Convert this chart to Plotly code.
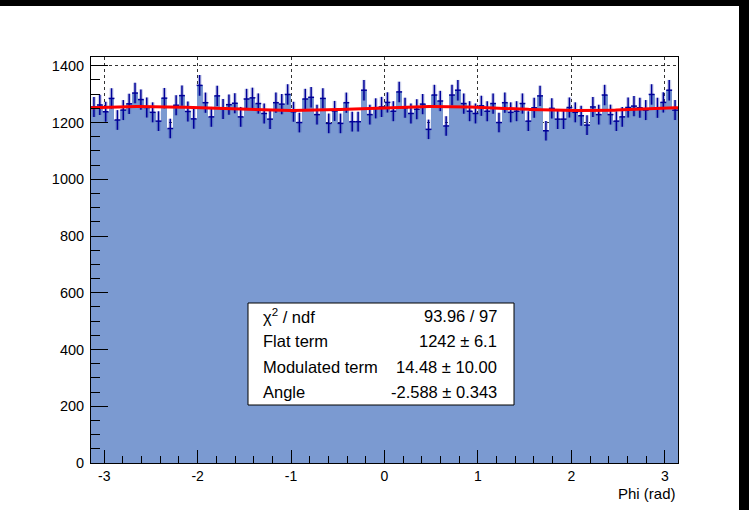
import numpy as np
import plotly.graph_objects as go

# ---------------- data ----------------
n_bins = 100
x_min, x_max = -np.pi, np.pi

counts = [
    1255, 1262, 1238, 1285, 1209, 1244, 1266, 1304, 1281, 1253,
    1236, 1205, 1286, 1179, 1261, 1295, 1239, 1213, 1331, 1270,
    1220, 1294, 1248, 1263, 1268,
    1220, 1283, 1287, 1267, 1232, 1212, 1270, 1265, 1299, 1238,
    1200, 1283, 1289, 1228, 1285, 1197, 1241, 1197, 1270, 1203,
    1203, 1314, 1228, 1250, 1255,
    1271, 1240, 1308, 1252, 1232, 1247, 1265, 1176, 1297, 1276,
    1188, 1297, 1314, 1267, 1240, 1232, 1259, 1240, 1267, 1200,
    1270, 1236, 1240, 1267, 1205,
    1252, 1294, 1171, 1250, 1212, 1212, 1253, 1236, 1224, 1191,
    1255, 1228, 1297, 1228, 1205, 1220, 1253, 1258, 1252, 1244,
    1299, 1252, 1271, 1314, 1244,
]

# fit parameters (from stats box)
flat_term = 1242.0
modulated_term = 14.48
angle = -2.588

stats_labels = ["χ<sup>2</sup> / ndf", "Flat term", "Modulated term", "Angle"]
stats_values = ["93.96 / 97", "1242 ± 6.1", "14.48 ± 10.00", "-2.588 ± 0.343"]

x_tick_vals = [-3, -2, -1, 0, 1, 2, 3]
x_tick_text = ["-3", "-2", "-1", "0", "1", "2", "3"]
y_tick_vals = [0, 200, 400, 600, 800, 1000, 1200, 1400]
y_tick_text = ["0", "200", "400", "600", "800", "1000", "1200", "1400"]
x_title = "Phi (rad)"

# ---------------- derived ----------------
counts = np.array(counts, dtype=float)
edges = np.linspace(x_min, x_max, n_bins + 1)
centers = 0.5 * (edges[:-1] + edges[1:])
bw = edges[1] - edges[0]
errs = np.sqrt(counts)

phi = np.linspace(x_min, x_max, 400)
fit = flat_term + modulated_term * np.cos(phi - angle) ** 2

FONT = "Liberation Sans, Arial, Helvetica, sans-serif"
FILL = "#7b9ad1"
ERR = "#000099"

fig = go.Figure()
fig.add_trace(go.Bar(
    x=centers, y=counts, width=bw,
    marker=dict(color=FILL, line=dict(width=0)),
    hoverinfo="skip", showlegend=False,
))
# soft halo around error bars
fig.add_trace(go.Scatter(
    x=centers, y=counts, mode="markers",
    marker=dict(size=1, color="rgba(0,0,0,0)"),
    error_y=dict(type="data", array=errs, visible=True, width=0,
                 thickness=4, color="rgba(40,60,170,0.25)"),
    hoverinfo="skip", showlegend=False,
))
fig.add_trace(go.Scatter(
    x=centers, y=counts, mode="markers",
    marker=dict(size=1, color="rgba(0,0,0,0)"),
    error_y=dict(type="data", array=errs, visible=True, width=0,
                 thickness=1.5, color=ERR),
    error_x=dict(type="constant", value=bw / 2, visible=True, width=0,
                 thickness=1.5, color=ERR),
    hoverinfo="skip", showlegend=False,
))
fig.add_trace(go.Scatter(
    x=phi, y=fit, mode="lines",
    line=dict(color="#ff0000", width=3),
    hoverinfo="skip", showlegend=False,
))

W, H = 749, 510
L, R, T, B = 91, 71, 57, 47
PW, PH = W - L - R, H - T - B


def px(xp):
    return (xp - L) / PW


def py(yp):
    return (H - B - yp) / PH


shapes = [
    # stats box
    dict(type="rect", xref="paper", yref="paper",
         x0=px(248), x1=px(514), y0=py(405), y1=py(303),
         fillcolor="white", line=dict(color="black", width=1), layer="above"),
    # black screenshot bands
    dict(type="rect", xref="paper", yref="paper",
         x0=px(0), x1=px(W), y0=py(6), y1=py(0),
         fillcolor="black", line=dict(width=0), layer="above"),
    dict(type="rect", xref="paper", yref="paper",
         x0=px(739), x1=px(W), y0=py(H), y1=py(0),
         fillcolor="black", line=dict(width=0), layer="above"),
]

annotations = []
row_y = [315.5, 341, 366.5, 392]
for lab, val, yy in zip(stats_labels, stats_values, row_y):
    annotations.append(dict(xref="paper", yref="paper", x=px(261), y=py(yy),
                            text=lab, showarrow=False, xanchor="left",
                            yanchor="middle",
                            font=dict(family=FONT, size=16.5, color="black")))
    annotations.append(dict(xref="paper", yref="paper", x=px(499), y=py(yy),
                            text=val, showarrow=False, xanchor="right",
                            yanchor="middle",
                            font=dict(family=FONT, size=16.5, color="black")))
annotations.append(dict(xref="paper", yref="paper", x=1.0, y=py(493),
                        text=x_title, showarrow=False, xanchor="right",
                        yanchor="middle",
                        font=dict(family=FONT, size=15, color="black")))

fig.update_layout(
    width=W, height=H, autosize=False,
    margin=dict(l=L, r=R, t=T, b=B, pad=0),
    paper_bgcolor="white", plot_bgcolor="white",
    bargap=0, barmode="overlay",
    font=dict(family=FONT, size=14, color="black"),
    shapes=shapes, annotations=annotations,
    showlegend=False,
)
fig.update_xaxes(
    range=[x_min, x_max], tickmode="array", tickvals=x_tick_vals,
    ticktext=x_tick_text, ticks="inside", ticklen=13, tickwidth=1,
    tickcolor="black", showline=True, linecolor="black", linewidth=1,
    mirror=True, showgrid=True, gridcolor="#333333", griddash="dot",
    gridwidth=1, zeroline=False, ticklabelstandoff=0,
    minor=dict(tickmode="linear", tick0=0, dtick=0.2, ticks="inside",
               ticklen=7, tickcolor="black", showgrid=False),
    tickfont=dict(family=FONT, size=14, color="black"),
)
fig.update_yaxes(
    range=[0, 1431], tickmode="array", tickvals=y_tick_vals,
    ticktext=y_tick_text, ticks="inside", ticklen=17, tickwidth=1,
    tickcolor="black", showline=True, linecolor="black", linewidth=1,
    mirror=True, showgrid=True, gridcolor="#333333", griddash="dot",
    gridwidth=1, zeroline=False, ticklabelstandoff=3,
    minor=dict(tickmode="linear", tick0=0, dtick=50, ticks="inside",
               ticklen=9, tickcolor="black", showgrid=False),
    tickfont=dict(family=FONT, size=14.5, color="black"),
)

fig.write_html("out.html",
               config={"displayModeBar": False},
               post_script="document.body.style.margin='0px';"
                           "document.body.style.overflow='hidden';")
